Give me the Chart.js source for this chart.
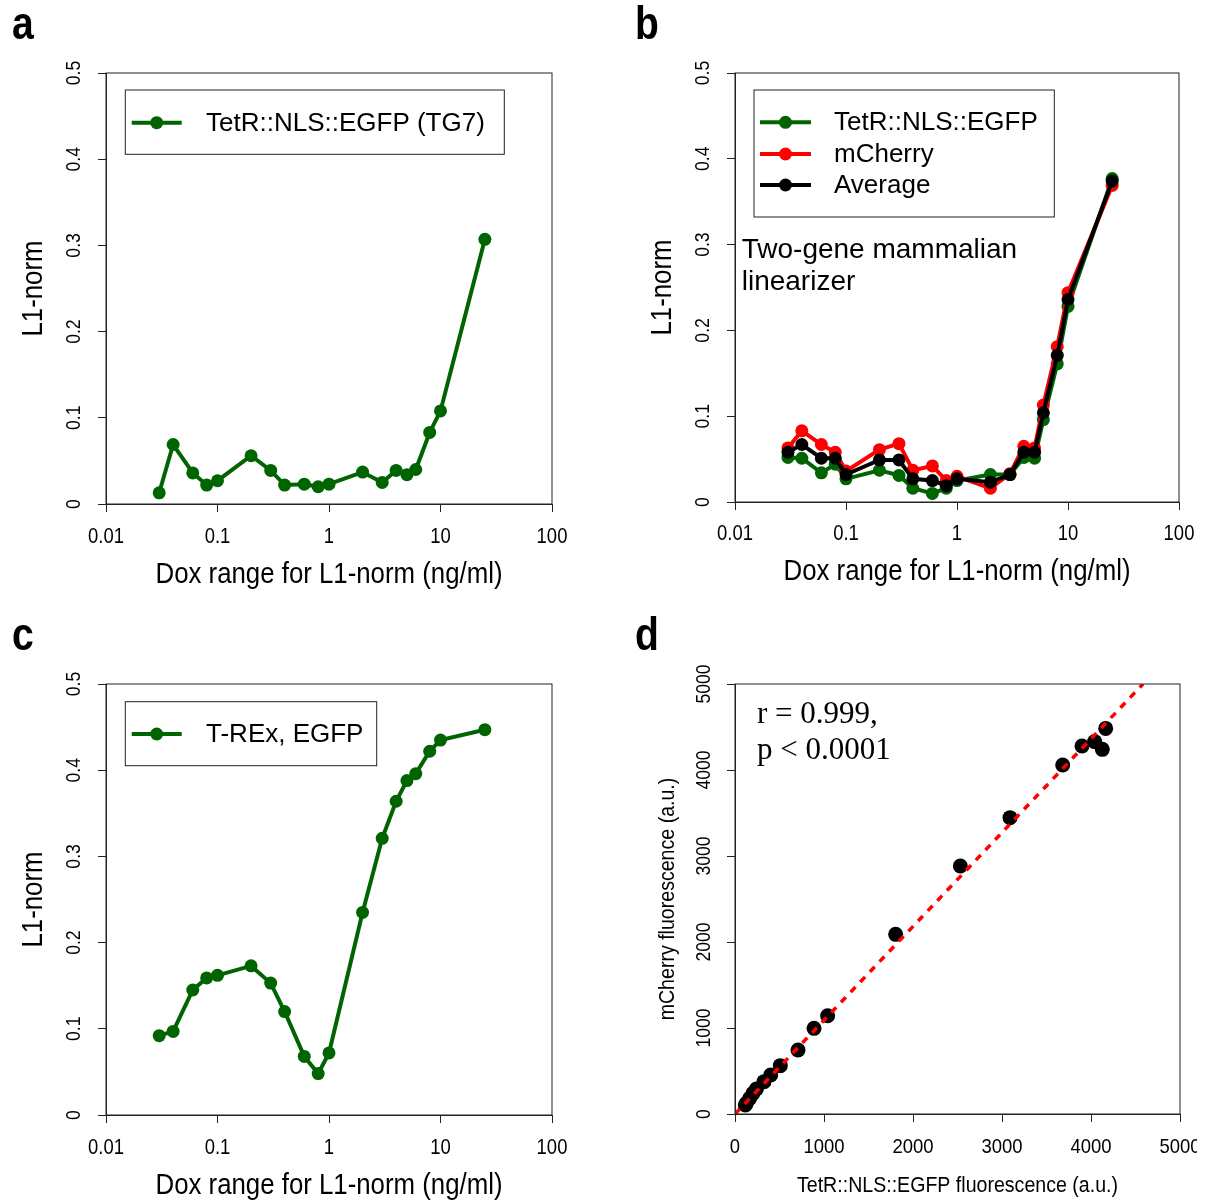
<!DOCTYPE html>
<html>
<head>
<meta charset="utf-8">
<script src="https://cdn.jsdelivr.net/npm/chart.js@4.4.1/dist/chart.umd.min.js"></script>
<style>
  html, body { margin: 0; padding: 0; background: #fff; }
  #page { position: relative; width: 1205px; height: 1201px; overflow: hidden; background: #fff; }
  canvas { position: absolute; left: 0; top: 0; }
</style>
</head>
<body>
<div id="page">
  <canvas id="panelA" width="1205" height="1201"></canvas>
  <canvas id="panelB" width="1205" height="1201"></canvas>
  <canvas id="panelC" width="1205" height="1201"></canvas>
  <canvas id="panelD" width="1197" height="1201"></canvas>
</div>
<script>
// --- data ---
const dox = [0.03, 0.04, 0.06, 0.08, 0.1, 0.2, 0.3, 0.4, 0.6, 0.8, 1, 2, 3, 4, 5, 6, 8, 10, 25];

// a: TetR::NLS::EGFP (TG7)
const l1TG7 = [0.013, 0.069, 0.036, 0.022, 0.027, 0.056, 0.039, 0.022, 0.023, 0.020, 0.023, 0.037, 0.025, 0.039, 0.034, 0.040, 0.083, 0.108, 0.307];

// b: two-gene linearizer
const l1Egfp = [0.052, 0.051, 0.034, 0.044, 0.027, 0.037, 0.031, 0.016, 0.010, 0.016, 0.025, 0.032, 0.032, 0.052, 0.051, 0.096, 0.161, 0.228, 0.377];
const l1Mcherry = [0.063, 0.083, 0.067, 0.058, 0.036, 0.061, 0.068, 0.037, 0.042, 0.025, 0.030, 0.016, 0.033, 0.065, 0.063, 0.113, 0.181, 0.244, 0.369];
const l1Average = [0.058, 0.067, 0.051, 0.051, 0.032, 0.049, 0.049, 0.027, 0.025, 0.019, 0.027, 0.023, 0.032, 0.058, 0.058, 0.104, 0.171, 0.236, 0.374];

// c: T-REx, EGFP
const l1TRex = [0.092, 0.097, 0.145, 0.159, 0.162, 0.173, 0.153, 0.120, 0.068, 0.048, 0.072, 0.235, 0.321, 0.364, 0.388, 0.396, 0.422, 0.435, 0.447];

// d: mCherry vs EGFP fluorescence
const egfpFluor = [116, 127, 165, 202, 240, 326, 401, 509, 708, 888, 1041, 1805, 2532, 3090, 3682, 3899, 4041, 4127, 4165];
const mcherryFluor = [105, 124, 182, 240, 291, 376, 453, 562, 744, 996, 1143, 2089, 2884, 3446, 4058, 4279, 4330, 4240, 4484];
const fitX = [0, 4584];
const fitY = [0, 5000];

// ticks
const doxTicks = [0.01, 0.1, 1, 10, 100];
const doxTickLabels = ['0.01', '0.1', '1', '10', '100'];
const l1Ticks = [0, 0.1, 0.2, 0.3, 0.4, 0.5];
const l1TickLabels = ['0', '0.1', '0.2', '0.3', '0.4', '0.5'];
const fluorTicks = [0, 1000, 2000, 3000, 4000, 5000];
const fluorTickLabels = ['0', '1000', '2000', '3000', '4000', '5000'];

const GREEN = '#006400', RED = '#ff0000', BLACK = '#000000';
const SANS = '"Liberation Sans", Arial, sans-serif';
const SERIF = '"Liberation Serif", "Times New Roman", serif';
const TICK = 8;

const pts = (xs, ys) => xs.map((x, i) => ({ x, y: ys[i] }));

function txt(ctx, s, x, y, o) {
  ctx.save();
  ctx.font = (o.bold ? 'bold ' : '') + o.size + 'px ' + (o.family || SANS);
  ctx.fillStyle = '#000';
  ctx.textAlign = o.align || 'center';
  ctx.textBaseline = o.base || 'middle';
  ctx.translate(x, y);
  if (o.rot) ctx.rotate(o.rot);
  ctx.scale(o.sx || 1, 1);
  ctx.fillText(s, 0, 0);
  ctx.restore();
}

function series(label, ys, color) {
  return {
    label, data: pts(dox, ys),
    borderColor: color, backgroundColor: color, pointBackgroundColor: color,
    borderWidth: 4, pointRadius: 6.5, pointBorderWidth: 0, tension: 0
  };
}

// frame, labels, legend and notes drawn on top of the chart
function decor(spec) {
  return {
    id: 'decor',
    afterDraw(chart) {
      const { ctx, chartArea: ca, scales: { x, y } } = chart;
      const t = spec.text;
      ctx.save();
      ctx.strokeStyle = '#222';
      ctx.lineWidth = 1;
      ctx.strokeRect(ca.left, ca.top, ca.right - ca.left, ca.bottom - ca.top);
      ctx.restore();

      spec.xTicks.forEach((v, i) => txt(ctx, spec.xLabels[i], x.getPixelForValue(v), t.xTickY, { size: t.tickSize, sx: t.tickSx }));
      spec.yTicks.forEach((v, i) => txt(ctx, spec.yLabels[i], t.yTickX, y.getPixelForValue(v), { size: t.tickSize - 1, sx: t.tickSx, rot: -Math.PI / 2 }));
      txt(ctx, spec.xTitle, (ca.left + ca.right) / 2, t.xTitleY, { size: t.titleSize, sx: t.titleSx });
      txt(ctx, spec.yTitle, t.yTitleX, (ca.top + ca.bottom) / 2, { size: t.titleSize, sx: t.titleSx, rot: -Math.PI / 2 });
      txt(ctx, spec.letter, t.letterX, ca.top - 34, { size: 46, bold: true, sx: 0.85, align: 'left', base: 'alphabetic' });

      const lg = spec.legend;
      if (lg) {
        ctx.save();
        ctx.strokeStyle = '#222';
        ctx.lineWidth = 1;
        ctx.strokeRect(lg.box[0], lg.box[1], lg.box[2] - lg.box[0], lg.box[3] - lg.box[1]);
        lg.order.forEach((di, r) => {
          const ds = chart.data.datasets[di];
          const ry = lg.rows[r];
          ctx.strokeStyle = ds.borderColor;
          ctx.lineWidth = ds.borderWidth;
          ctx.beginPath();
          ctx.moveTo(lg.lineX[0], ry);
          ctx.lineTo(lg.lineX[1], ry);
          ctx.stroke();
          ctx.fillStyle = ds.borderColor;
          ctx.beginPath();
          ctx.arc((lg.lineX[0] + lg.lineX[1]) / 2, ry, ds.pointRadius, 0, Math.PI * 2);
          ctx.fill();
          txt(ctx, ds.label, lg.textX, ry + 1, { size: lg.size, align: 'left' });
        });
        ctx.restore();
      }
      (spec.notes || []).forEach(n => txt(ctx, n.text, n.x, n.y, { size: n.size, family: n.family, align: 'left', base: 'alphabetic' }));
    }
  };
}

function panel(id, spec) {
  const canvas = document.getElementById(id);
  const W = canvas.width, H = canvas.height, a = spec.area;
  const axisBase = {
    ticks: { display: false },
    grid: { display: true, drawOnChartArea: false, drawTicks: true, tickLength: TICK, color: '#222', lineWidth: 1 },
    border: { display: true, color: '#222', width: 1 }
  };
  return new Chart(canvas, {
    type: spec.type,
    data: { datasets: spec.datasets },
    options: {
      responsive: false, animation: false, devicePixelRatio: 1, events: [],
      layout: { padding: { left: a.left - TICK, top: a.top, right: W - a.right, bottom: H - a.bottom - TICK } },
      plugins: { legend: { display: false }, tooltip: { enabled: false } },
      scales: {
        x: Object.assign({}, axisBase, {
          type: spec.xType, min: spec.xTicks[0], max: spec.xTicks[spec.xTicks.length - 1],
          afterBuildTicks: s => { s.ticks = spec.xTicks.map(v => ({ value: v })); },
          afterFit: s => { s.height = TICK; }
        }),
        y: Object.assign({}, axisBase, {
          type: 'linear', min: spec.yTicks[0], max: spec.yTicks[spec.yTicks.length - 1],
          afterBuildTicks: s => { s.ticks = spec.yTicks.map(v => ({ value: v })); },
          afterFit: s => { s.width = TICK; }
        })
      }
    },
    plugins: [decor(spec)]
  });
}

const doseText = (xTickY, xTitleY, yTickX, yTitleX, letterX) => ({
  xTickY, xTitleY, yTickX, yTitleX, letterX,
  tickSize: 22, tickSx: 0.84, titleSize: 30, titleSx: 0.86
});

panel('panelA', {
  type: 'line', xType: 'logarithmic', letter: 'a',
  area: { left: 106, right: 552, top: 73, bottom: 504 },
  xTicks: doxTicks, xLabels: doxTickLabels, yTicks: l1Ticks, yLabels: l1TickLabels,
  xTitle: 'Dox range for L1-norm (ng/ml)', yTitle: 'L1-norm',
  text: doseText(537, 575, 74, 34, 12),
  datasets: [series('TetR::NLS::EGFP (TG7)', l1TG7, GREEN)],
  legend: { box: [125.3, 90, 504.3, 154.3], rows: [122.7], lineX: [131.7, 181.7], textX: 206, size: 26, order: [0] }
});

panel('panelB', {
  type: 'line', xType: 'logarithmic', letter: 'b',
  area: { left: 735, right: 1179, top: 73, bottom: 502 },
  xTicks: doxTicks, xLabels: doxTickLabels, yTicks: l1Ticks, yLabels: l1TickLabels,
  xTitle: 'Dox range for L1-norm (ng/ml)', yTitle: 'L1-norm',
  text: doseText(534, 572, 703, 663, 635),
  datasets: [
    series('Average', l1Average, BLACK),
    series('mCherry', l1Mcherry, RED),
    series('TetR::NLS::EGFP', l1Egfp, GREEN)
  ],
  legend: { box: [754, 90, 1054.3, 217], rows: [122.3, 154, 185], lineX: [760, 811], textX: 834, size: 26, order: [2, 1, 0] },
  notes: [
    { text: 'Two-gene mammalian', x: 741.7, y: 258.3, size: 28 },
    { text: 'linearizer', x: 741.7, y: 290, size: 28 }
  ]
});

panel('panelC', {
  type: 'line', xType: 'logarithmic', letter: 'c',
  area: { left: 106, right: 552, top: 684, bottom: 1115 },
  xTicks: doxTicks, xLabels: doxTickLabels, yTicks: l1Ticks, yLabels: l1TickLabels,
  xTitle: 'Dox range for L1-norm (ng/ml)', yTitle: 'L1-norm',
  text: doseText(1148, 1186, 74, 34, 12),
  datasets: [series('T-REx, EGFP', l1TRex, GREEN)],
  legend: { box: [125.3, 701.7, 376.7, 765.7], rows: [734], lineX: [131.7, 181.7], textX: 206, size: 26, order: [0] }
});

panel('panelD', {
  type: 'scatter', xType: 'linear', letter: 'd',
  area: { left: 735, right: 1180, top: 684, bottom: 1114 },
  xTicks: fluorTicks, xLabels: fluorTickLabels, yTicks: fluorTicks, yLabels: fluorTickLabels,
  xTitle: 'TetR::NLS::EGFP fluorescence (a.u.)', yTitle: 'mCherry fluorescence (a.u.)',
  text: { xTickY: 1147, xTitleY: 1186, yTickX: 704, yTitleX: 668, letterX: 635, tickSize: 21, tickSx: 0.88, titleSize: 22, titleSx: 0.89 },
  datasets: [
    { label: 'fit', data: pts(fitX, fitY), showLine: true, borderColor: RED, borderWidth: 3.5, borderDash: [7, 7], pointRadius: 0 },
    { label: 'cells', data: pts(egfpFluor, mcherryFluor), showLine: false, pointRadius: 7.5, pointBorderWidth: 0, pointBackgroundColor: BLACK, backgroundColor: BLACK }
  ],
  notes: [
    { text: 'r = 0.999,', x: 757, y: 722.7, size: 31, family: SERIF },
    { text: 'p < 0.0001', x: 757, y: 759, size: 31, family: SERIF }
  ]
});
</script>
</body>
</html>
